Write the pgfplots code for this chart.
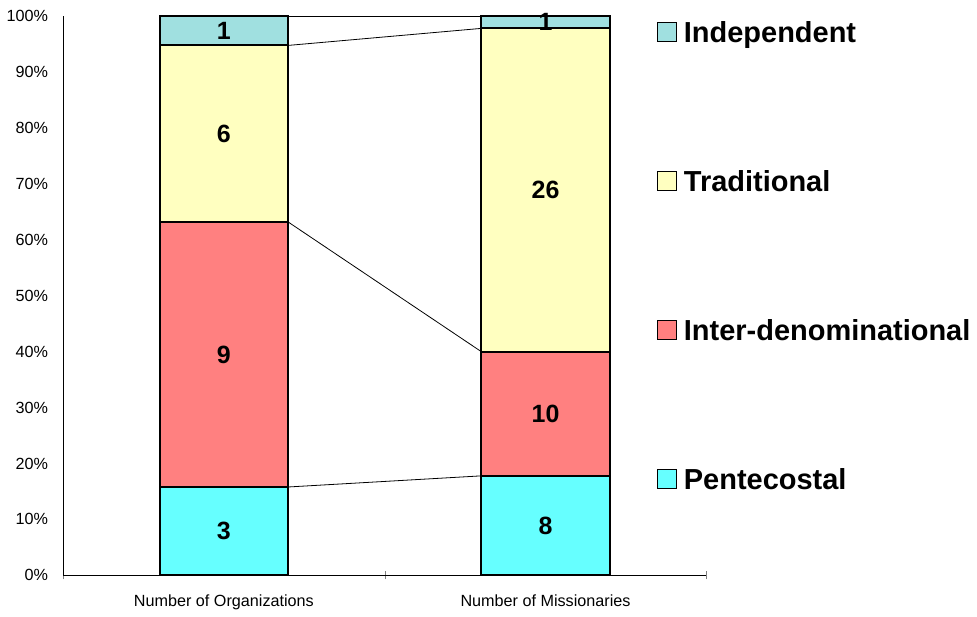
\documentclass[border=0pt]{standalone}
\usepackage{fontspec}
\setmainfont{Liberation Sans}
\usepackage{pgfplots}
\usepackage{pgfplotstable}
\pgfplotsset{compat=1.18}

\definecolor{cindep}{HTML}{A0E0E0}
\definecolor{ctrad}{HTML}{FFFFC0}
\definecolor{cinter}{HTML}{FF8080}
\definecolor{cpent}{HTML}{66FFFF}

% counts per group; bars are shares of the column total
\pgfplotstableread{
x pent inter trad indep tot
0 3    9     6    1     19
1 8    10    26   1     45
}\counts

\pgfplotsset{
  base/.style={x=161pt, y=2.8pt, xmin=-0.5, xmax=1.5, ymin=0, ymax=100, clip=false},
  seg/.style={draw=black, line width=1pt},
}

\begin{document}
\begin{tikzpicture}
\begin{axis}[
  base,
  ybar stacked, bar width=0.4,
  axis lines*=left,
  axis line style={line width=0.5pt},
  xtick={0,1},
  xticklabels={Number of Organizations, Number of Missionaries},
  minor xtick={-0.5,0.5,1.5},
  major tick length=0pt, minor tick length=4pt, tick align=center,
  ytick={0,10,...,100},
  yticklabels={0\%,10\%,20\%,30\%,40\%,50\%,60\%,70\%,80\%,90\%,100\%},
  tick label style={font=\fontsize{8.1}{9.5}\selectfont},
  xticklabel style={yshift=-6pt},
  yticklabel style={xshift=-4pt},
  legend image code/.code={
    \draw[#1, line width=0.7pt] (0pt,-3.25pt) rectangle (9.5pt,6.25pt);},
  reverse legend,
  legend cell align=left,
  legend style={at={(0.922,0.99)}, anchor=north west, draw=none, fill=none,
    inner sep=0pt, row sep=61.5pt, column sep=3.5pt,
    font=\bfseries\fontsize{14.5}{17}\selectfont,
    nodes={inner sep=0pt, text height=10pt, text depth=3pt}},
]
\addplot[seg, fill=cpent]  table[x=x, y expr=\thisrow{pent}/\thisrow{tot}*100] {\counts};
\addplot[seg, fill=cinter] table[x=x, y expr=\thisrow{inter}/\thisrow{tot}*100] {\counts};
\addplot[seg, fill=ctrad]  table[x=x, y expr=\thisrow{trad}/\thisrow{tot}*100] {\counts};
\addplot[seg, fill=cindep] table[x=x, y expr=\thisrow{indep}/\thisrow{tot}*100] {\counts};
\legend{Pentecostal, Inter-denominational, Traditional, Independent}
\end{axis}

\begin{axis}[base, hide axis,
  every node near coord/.append style={anchor=center,
    font=\bfseries\fontsize{12.5}{14}\selectfont, text=black}]
% series lines between the bar edges
\addplot[black, line width=0.4pt] table[x expr=0.2+0.6*\thisrow{x},
  y expr=\thisrow{pent}/\thisrow{tot}*100] {\counts};
\addplot[black, line width=0.4pt] table[x expr=0.2+0.6*\thisrow{x},
  y expr=(\thisrow{pent}+\thisrow{inter})/\thisrow{tot}*100] {\counts};
\addplot[black, line width=0.4pt] table[x expr=0.2+0.6*\thisrow{x},
  y expr=(\thisrow{pent}+\thisrow{inter}+\thisrow{trad})/\thisrow{tot}*100] {\counts};
\addplot[black, line width=0.4pt] table[x expr=0.2+0.6*\thisrow{x}, y expr=100] {\counts};
% value labels centred in each segment
\addplot[draw=none, mark=none, nodes near coords, point meta=explicit symbolic]
  table[x=x, y expr=0.5*\thisrow{pent}/\thisrow{tot}*100, meta=pent] {\counts};
\addplot[draw=none, mark=none, nodes near coords, point meta=explicit symbolic]
  table[x=x, y expr=(\thisrow{pent}+0.5*\thisrow{inter})/\thisrow{tot}*100, meta=inter] {\counts};
\addplot[draw=none, mark=none, nodes near coords, point meta=explicit symbolic]
  table[x=x, y expr=(\thisrow{pent}+\thisrow{inter}+0.5*\thisrow{trad})/\thisrow{tot}*100, meta=trad] {\counts};
\addplot[draw=none, mark=none, nodes near coords, point meta=explicit symbolic]
  table[x=x, y expr=(\thisrow{tot}-0.5*\thisrow{indep})/\thisrow{tot}*100, meta=indep] {\counts};
\end{axis}
\path (-31pt,-18pt) rectangle (457.5pt,288pt);
\end{tikzpicture}
\end{document}
